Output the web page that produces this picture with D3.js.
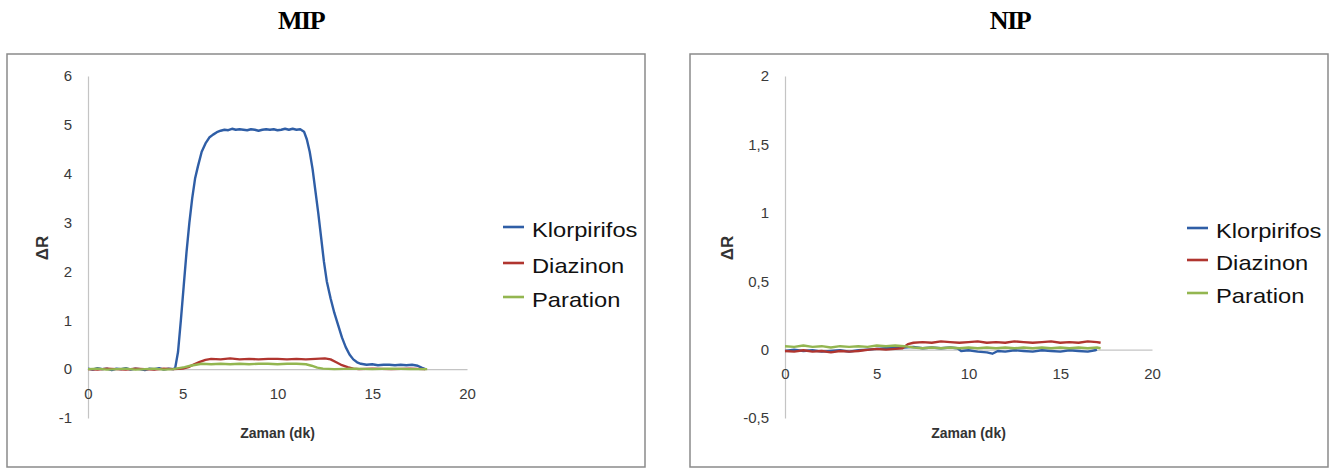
<!DOCTYPE html>
<html>
<head>
<meta charset="utf-8">
<script src="https://cdn.jsdelivr.net/npm/d3@7"></script>
<style>
  body { margin: 0; background: #fff; }
  svg { display: block; }
  text { font-family: "Liberation Sans", Arial, sans-serif; }
</style>
</head>
<body>
<svg id="chart" width="1335" height="468"></svg>
<script>
// series names + colours (Excel 2007 palette, a bit darker like the scan)
const seriesNames = ["Klorpirifos", "Diazinon", "Paration"];
const seriesColors = ["#2f5ea6", "#b0352f", "#93b650"];

const xTicks = [0, 5, 10, 15, 20];
const mipYTicks = [-1, 0, 1, 2, 3, 4, 5, 6];
const nipYTicks = [-0.5, 0, 0.5, 1, 1.5, 2];

// MIP, [time (dk), dR]
const mipKlorpirifos = [[0,0.01],[0.25,-0.01],[0.5,0.02],[0.75,0],[1,0.01],[1.25,-0.02],[1.5,0.01],[1.75,0],[2,0.02],[2.25,-0.01],[2.5,0.01],[2.75,0],[3,-0.02],[3.25,0.01],[3.5,0],[3.75,0.02],[4,-0.01],[4.25,0.01],[4.5,0],[4.6,0.02],[4.75,0.35],[4.9,1.0],[5.05,1.7],[5.2,2.4],[5.35,3.0],[5.5,3.5],[5.65,3.9],[5.8,4.15],[6.0,4.45],[6.2,4.62],[6.4,4.74],[6.6,4.8],[6.8,4.85],[7.0,4.88],[7.2,4.9],[7.4,4.89],[7.6,4.92],[7.8,4.9],[8.0,4.91],[8.2,4.9],[8.4,4.89],[8.6,4.91],[8.8,4.9],[9.0,4.88],[9.2,4.9],[9.4,4.91],[9.6,4.9],[9.8,4.91],[10.0,4.89],[10.2,4.9],[10.4,4.92],[10.6,4.9],[10.8,4.92],[11.0,4.9],[11.2,4.91],[11.4,4.86],[11.55,4.7],[11.7,4.45],[11.85,4.1],[12.0,3.65],[12.15,3.2],[12.3,2.7],[12.45,2.2],[12.6,1.8],[12.8,1.45],[13.0,1.15],[13.2,0.9],[13.4,0.65],[13.6,0.45],[13.8,0.3],[14.0,0.2],[14.2,0.14],[14.4,0.11],[14.7,0.09],[15.0,0.1],[15.3,0.08],[15.6,0.09],[15.9,0.09],[16.2,0.08],[16.5,0.09],[16.8,0.08],[17.1,0.09],[17.4,0.07],[17.6,0.03],[17.8,0.0]];
const mipDiazinon = [[0,0],[0.5,-0.01],[1,0.01],[1.5,0],[2,-0.01],[2.5,0.01],[3,0],[3.5,-0.01],[4,0.01],[4.5,0],[5,0.01],[5.3,0.04],[5.6,0.1],[5.9,0.15],[6.2,0.19],[6.5,0.21],[7,0.2],[7.5,0.22],[8,0.2],[8.5,0.21],[9,0.2],[9.5,0.21],[10,0.21],[10.5,0.2],[11,0.21],[11.5,0.2],[12,0.21],[12.5,0.22],[12.8,0.2],[13.1,0.14],[13.4,0.08],[13.7,0.04],[14,0.01],[14.3,0],[15,0.01],[16,0],[17,0.01],[17.8,0]];
const mipParation = [[0,0],[0.5,0.01],[1,-0.01],[1.5,0],[2,0.01],[2.5,-0.01],[3,0],[3.5,0.01],[4,-0.01],[4.5,0],[4.8,0.02],[5.1,0.04],[5.4,0.07],[5.7,0.09],[6,0.11],[6.5,0.1],[7,0.11],[7.5,0.1],[8,0.11],[8.5,0.1],[9,0.11],[9.5,0.11],[10,0.1],[10.5,0.11],[11,0.11],[11.5,0.1],[11.8,0.07],[12.1,0.03],[12.4,0.01],[13,0],[14,0.01],[15,0],[16,0.01],[17,0],[17.9,0]];

// NIP
const nipKlorpirifos = [[0,-0.01],[0.5,0],[1,-0.01],[1.5,-0.005],[2,-0.015],[2.5,-0.01],[3,-0.005],[3.5,-0.015],[4,-0.005],[4.5,0],[5,0.005],[5.5,0.01],[6,0.01],[6.5,0.015],[7,0.02],[7.5,0.01],[8,0.015],[8.5,0.01],[9,0.015],[9.4,0.01],[9.6,-0.01],[10,-0.005],[10.5,-0.015],[11,-0.02],[11.3,-0.03],[11.6,-0.01],[12,-0.015],[12.5,-0.005],[13,-0.01],[13.5,-0.015],[14,-0.005],[14.5,-0.01],[15,-0.015],[15.5,-0.005],[16,-0.01],[16.5,-0.015],[16.9,-0.005],[17,0.0]];
const nipDiazinon = [[0,-0.01],[0.5,-0.015],[1,-0.005],[1.5,-0.015],[2,-0.01],[2.5,-0.02],[3,-0.01],[3.5,-0.015],[4,-0.01],[4.3,-0.005],[4.6,0],[5,0.005],[5.5,0],[6,0.005],[6.4,0.01],[6.7,0.04],[7,0.05],[7.5,0.055],[8,0.05],[8.5,0.06],[9,0.055],[9.5,0.05],[10,0.055],[10.5,0.06],[11,0.05],[11.5,0.055],[12,0.05],[12.5,0.06],[13,0.055],[13.5,0.05],[14,0.055],[14.5,0.06],[15,0.05],[15.5,0.055],[16,0.05],[16.5,0.06],[17,0.055],[17.2,0.05]];
const nipParation = [[0,0.025],[0.5,0.02],[1,0.03],[1.5,0.02],[2,0.025],[2.5,0.015],[3,0.025],[3.5,0.02],[4,0.025],[4.5,0.02],[5,0.03],[5.5,0.025],[6,0.03],[6.5,0.025],[7,0.015],[7.5,0.01],[8,0.015],[8.5,0.01],[9,0.015],[9.5,0.01],[10,0.015],[10.5,0.01],[11,0.015],[11.5,0.01],[12,0.015],[12.5,0.01],[13,0.015],[13.5,0.01],[14,0.015],[14.5,0.01],[15,0.015],[15.5,0.01],[16,0.015],[16.5,0.01],[17,0.015],[17.2,0.01]];

// turkish style decimals: 1,5 and a plain hyphen for negatives (like excel)
const trLocale = d3.formatLocale({ decimal: ",", thousands: ".", grouping: [3], currency: ["", ""], minus: "-" });
const trFormat = trLocale.format("~g");

const svg = d3.select("#chart");
const textStretch = 1.13; // scan is a bit wider than tall

drawPanel({
  title: "MIP", titleX: 301,
  box: [7, 54, 645, 467],
  xRange: [88, 467], yRange: [418, 76],
  yDomain: [-1, 6], yTicks: mipYTicks,
  series: [mipKlorpirifos, mipDiazinon, mipParation],
  yLabelX: 42, legendX: 503, legendY: [229, 265, 299]
});

drawPanel({
  title: "NIP", titleX: 1010,
  box: [690, 54, 1328, 467],
  xRange: [785, 1152], yRange: [418, 76],
  yDomain: [-0.5, 2], yTicks: nipYTicks,
  series: [nipKlorpirifos, nipDiazinon, nipParation],
  yLabelX: 727, legendX: 1187, legendY: [230, 262, 295]
});

function drawPanel(cfg) {
  var x = d3.scaleLinear().domain([0, 20]).range(cfg.xRange);
  var y = d3.scaleLinear().domain(cfg.yDomain).range(cfg.yRange);

  svg.append("text")
    .attr("x", cfg.titleX).attr("y", 29)
    .attr("text-anchor", "middle")
    .style("font-family", "'Liberation Serif', 'Times New Roman', serif")
    .style("font-weight", "bold")
    .style("font-size", "26px")
    .style("letter-spacing", "-1.5px")
    .text(cfg.title);

  svg.append("rect")
    .attr("x", cfg.box[0]).attr("y", cfg.box[1])
    .attr("width", cfg.box[2] - cfg.box[0])
    .attr("height", cfg.box[3] - cfg.box[1])
    .attr("fill", "#fff")
    .attr("stroke", "#8a8a8a")
    .attr("stroke-width", 1.5);

  var yAxis = svg.append("g")
    .attr("transform", `translate(${cfg.xRange[0]},0)`)
    .call(d3.axisLeft(y).tickValues(cfg.yTicks).tickFormat(trFormat).tickSize(0).tickSizeOuter(0).tickPadding(16));

  var xAxis = svg.append("g")
    .attr("transform", `translate(0,${y(0)})`)
    .call(d3.axisBottom(x).tickValues(xTicks).tickSize(0).tickSizeOuter(0).tickPadding(19));

  [xAxis, yAxis].forEach(g => {
    g.select(".domain").attr("stroke", "#c4c4c4").attr("stroke-width", 1.2);
    g.selectAll("text")
      .style("font-family", "'Liberation Sans', Arial, sans-serif")
      .style("font-size", "15px")
      .attr("fill", "#3a3a3a");
  });

  var line = d3.line().x(d => x(d[0])).y(d => y(d[1]));

  cfg.series.forEach((s, i) => {
    svg.append("path")
      .datum(s)
      .attr("d", line)
      .attr("fill", "none")
      .attr("stroke", seriesColors[i])
      .attr("stroke-width", 2.4)
      .attr("stroke-linejoin", "round");
  });

  // axis titles
  svg.append("text")
    .attr("transform", `translate(${cfg.yLabelX},248) rotate(-90)`)
    .attr("text-anchor", "middle")
    .attr("dy", "0.35em")
    .style("font-size", "17px")
    .style("font-weight", "bold")
    .attr("fill", "#333")
    .text("ΔR");

  svg.append("text")
    .attr("x", (cfg.xRange[0] + cfg.xRange[1]) / 2)
    .attr("y", 438)
    .attr("text-anchor", "middle")
    .style("font-size", "14px")
    .style("font-weight", "bold")
    .attr("fill", "#333")
    .text("Zaman (dk)");

  // legend
  seriesNames.forEach((name, i) => {
    var ly = cfg.legendY[i];
    svg.append("line")
      .attr("x1", cfg.legendX).attr("x2", cfg.legendX + 21)
      .attr("y1", ly - 2).attr("y2", ly - 2)
      .attr("stroke", seriesColors[i])
      .attr("stroke-width", 2.6);
    svg.append("text")
      .attr("transform", `translate(${cfg.legendX + 29},${ly + 7.5}) scale(${textStretch},1)`)
      .style("font-size", "21px")
      .attr("fill", "#111")
      .text(name);
  });
}
</script>
</body>
</html>
